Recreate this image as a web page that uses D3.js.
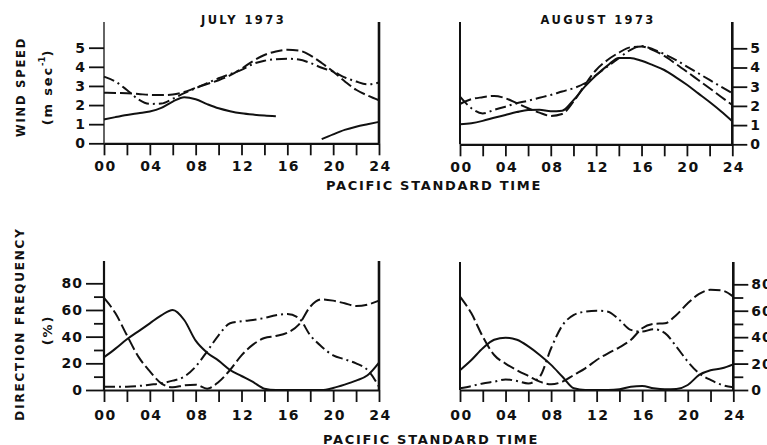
<!DOCTYPE html>
<html>
<head>
<meta charset="utf-8">
<script src="https://cdn.jsdelivr.net/npm/d3@7"></script>
<style>
  body { margin: 0; background: #fff; }
  svg text { font-family: "DejaVu Sans", sans-serif; font-weight: bold; fill: #111; }
</style>
</head>
<body>
<svg id="chart" width="767" height="445"></svg>
<script>
// hour of day (Pacific Standard Time)
const hours = [0,1,2,3,4,5,6,7,8,9,10,11,12,13,14,15,16,17,18,19,20,21,22,23,24];
const hourTicks = [0,2,4,6,8,10,12,14,16,18,20,22,24];
const speedTicks = [0,1,2,3,4,5];
const freqMajorTicks = [0,20,40,60,80];
const freqMinorTicks = [10,30,50,70];
const titles = ["JULY 1973", "AUGUST 1973"];

// wind speed, m/s
const julySpeedSolid   = [1.25,1.37,1.48,1.57,1.66,1.85,2.18,2.41,2.3,2.05,1.83,1.68,1.57,1.5,1.45,1.42,null,null,null,0.22,0.47,0.7,0.87,1.0,1.12];
const julySpeedDashed  = [2.65,2.63,2.62,2.58,2.53,2.52,2.55,2.68,2.9,3.1,3.3,3.55,3.9,4.3,4.62,4.8,4.89,4.85,4.6,4.2,3.75,3.25,2.8,2.5,2.25];
const julySpeedDashDot = [3.49,3.23,2.79,2.3,2.06,2.08,2.33,2.62,2.88,3.15,3.4,3.62,3.84,4.15,4.32,4.4,4.42,4.38,4.2,3.95,3.75,3.45,3.23,3.08,3.18];
const augSpeedSolid    = [1.05,1.1,1.22,1.38,1.53,1.68,1.79,1.8,1.72,1.75,2.3,3.0,3.6,4.1,4.5,4.5,4.35,4.12,3.87,3.5,3.1,2.65,2.2,1.72,1.2];
const augSpeedDashed   = [2.1,2.35,2.45,2.52,2.4,2.14,1.88,1.65,1.48,1.58,2.22,3.09,3.87,4.39,4.77,5.05,5.09,4.91,4.6,4.2,3.78,3.35,2.92,2.48,2.05];
const augSpeedDashDot  = [2.48,1.88,1.61,1.79,1.96,2.14,2.27,2.42,2.57,2.75,2.92,3.18,3.61,4.05,4.48,4.91,5.12,4.95,4.7,4.4,4.05,3.7,3.35,3.0,2.66];

// direction frequency, %
const julyFreqSolid   = [24.5,31,38,44,50,56,60,52.5,37,28,22,15,10.5,6,1,0,0,0,0,0,1.5,4,7,11,20.5];
const julyFreqDashed  = [69,57.5,41,25,14,5,2,3.5,4,1,6,15,26,34,39,40.5,43,49,62.5,68,67,65,63,64,67];
const julyFreqDashDot = [2.5,2.5,2.5,3,4,5,7,10,17.5,29,41,50,51.5,52.5,54,56,57,54,41,32.5,26,23,20,15,2.5];
const augFreqSolid    = [15,22.7,31.6,38,39.6,38,33,26.5,19,10,1.3,0,0,0,0.5,2.5,3,1.3,0.5,0.8,3.8,11.4,15,16.4,19.4];
const augFreqDashed   = [70.7,58,40.4,26.5,20,15,10.6,6.3,4.3,6.3,11.4,16.4,22.7,27.8,32.3,37.9,46.7,50,50.5,56.8,65.7,72.7,75.8,75.3,70.7];
const augFreqDashDot  = [1.3,3,5,6.3,8,6.8,5,10,31.6,49,56.8,59.3,60,59.3,53,45.5,44.2,46,43,32.8,21.5,12.6,7.6,3.8,2];

const dashes = { solid: null, dashed: "12,4", dashdot: "11,4,2,4" };

const panels = [
  { x0: 104, x1: 379,   base: 143.3, yTop: 47.7,  top: 22,  domain: [0, 5],  side: "left",  kind: "speed", leftW: 1.3,
    series: [["solid", julySpeedSolid], ["dashed", julySpeedDashed], ["dashdot", julySpeedDashDot]] },
  { x0: 460, x1: 732.3, base: 144.3, yTop: 48.3,  top: 22,  domain: [0, 5],  side: "right", kind: "speed", leftW: 2,
    series: [["solid", augSpeedSolid], ["dashed", augSpeedDashed], ["dashdot", augSpeedDashDot]] },
  { x0: 104, x1: 379,   base: 390,   yTop: 283.3, top: 261, domain: [0, 80], side: "left",  kind: "freq", leftW: 2.2,
    series: [["solid", julyFreqSolid], ["dashed", julyFreqDashed], ["dashdot", julyFreqDashDot]] },
  { x0: 460, x1: 733.3, base: 390,   yTop: 284.3, top: 262, domain: [0, 80], side: "right", kind: "freq", leftW: 2.2,
    series: [["solid", augFreqSolid], ["dashed", augFreqDashed], ["dashdot", augFreqDashDot]] }
];

const svg = d3.select("#chart");

panels.forEach((p, pi) => {
  const x = d3.scaleLinear().domain([0, 24]).range([p.x0, p.x1]);
  const y = d3.scaleLinear().domain(p.domain).range([p.base, p.yTop]);
  const g = svg.append("g");

  // frame verticals
  g.append("line").attr("x1", x(0)).attr("x2", x(0)).attr("y1", p.top).attr("y2", p.base)
    .attr("stroke", "#111").attr("stroke-width", p.side === "left" ? p.leftW : 2);
  g.append("line").attr("x1", x(24)).attr("x2", x(24)).attr("y1", p.top).attr("y2", p.base)
    .attr("stroke", "#111").attr("stroke-width", 2.6);

  // hour axis
  const xa = g.append("g").attr("transform", `translate(0,${p.base})`)
    .call(d3.axisBottom(x).tickValues(hourTicks).tickSize(12).tickSizeOuter(0)
      .tickPadding(p.kind === "speed" ? 6 : 8)
      .tickFormat(d => d % 4 === 0 ? String(d).padStart(2, "0") : ""));
  xa.select(".domain").attr("stroke", "#111").attr("stroke-width", 2.2);
  xa.selectAll(".tick line").attr("stroke", "#111").attr("stroke-width", 1.8);
  xa.selectAll("text").attr("font-size", 14).attr("letter-spacing", 1.4).attr("dx", 1);

  // value axis
  const ax = p.side === "left" ? d3.axisLeft(y) : d3.axisRight(y);
  const ya = g.append("g").attr("transform", `translate(${p.side === "left" ? x(0) : x(24)},0)`);
  if (p.kind === "freq") {
    const mk = p.side === "left" ? d3.axisLeft(y) : d3.axisRight(y);
    ya.append("g").call(mk.tickValues(freqMinorTicks).tickSize(10).tickFormat(""));
    ya.append("g").call(ax.tickValues(freqMajorTicks).tickSize(p.side === "left" ? 18 : 15).tickPadding(3).tickFormat(d3.format("d")));
  } else {
    ya.append("g").call(ax.tickValues(speedTicks).tickSize(15).tickPadding(3).tickFormat(d3.format("d")));
  }
  ya.selectAll(".domain").remove();
  ya.selectAll(".tick line").attr("stroke", "#111").attr("stroke-width", 1.8);
  ya.selectAll("text").attr("font-size", 14).attr("letter-spacing", 1);

  // curves
  const line = d3.line()
    .defined(d => d[1] != null)
    .x(d => x(d[0]))
    .y(d => y(d[1]))
    .curve(d3.curveMonotoneX);

  g.selectAll("path.series")
    .data(p.series)
    .join("path")
    .attr("class", "series")
    .attr("fill", "none")
    .attr("stroke", "#111")
    .attr("stroke-width", 2)
    .attr("stroke-dasharray", d => dashes[d[0]])
    .attr("d", d => line(hours.map((h, i) => [h, d[1][i]])));

  if (p.kind === "speed") {
    g.append("text").attr("x", (x(0) + x(24)) / 2 + 2).attr("y", 23.5)
      .attr("text-anchor", "middle").attr("font-size", 11.5).attr("letter-spacing", 2.4)
      .text(titles[pi]);
  }
});

// x axis titles
svg.append("text").attr("x", 434).attr("y", 190).attr("text-anchor", "middle")
  .attr("font-size", 13).attr("letter-spacing", 1.7).text("PACIFIC STANDARD TIME");
svg.append("text").attr("x", 431).attr("y", 444).attr("text-anchor", "middle")
  .attr("font-size", 13).attr("letter-spacing", 1.7).text("PACIFIC STANDARD TIME");

// y axis titles
function vtext(cx, cy, size) {
  return svg.append("text")
    .attr("transform", `translate(${cx},${cy}) rotate(-90)`)
    .attr("text-anchor", "middle")
    .attr("dominant-baseline", "central")
    .attr("font-size", size)
    .attr("letter-spacing", 1.8);
}
vtext(21, 87, 11.5).text("WIND SPEED");
const unit = vtext(47, 87, 13);
unit.append("tspan").text("(m sec");
unit.append("tspan").attr("font-size", 8.5).attr("dy", -5).attr("letter-spacing", 0).text("-1");
unit.append("tspan").attr("dy", 5).text(")");
vtext(20, 324, 12).text("DIRECTION FREQUENCY");
vtext(47, 330, 13).text("(%)");
</script>
</body>
</html>
